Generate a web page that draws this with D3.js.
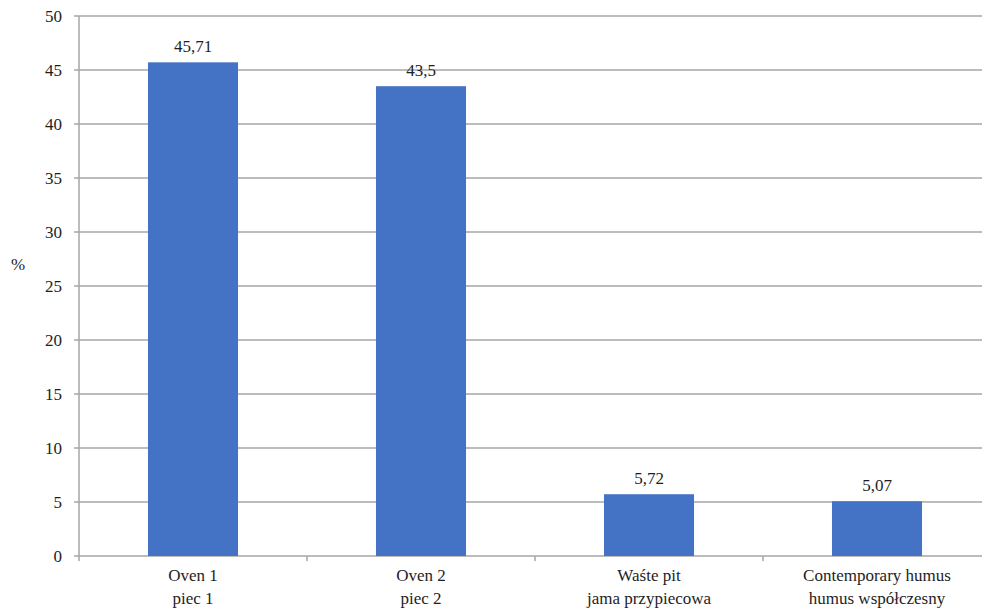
<!DOCTYPE html>
<html>
<head>
<meta charset="utf-8">
<script src="https://cdn.jsdelivr.net/npm/d3@7"></script>
<style>
  html, body { margin: 0; padding: 0; background: #fff; }
  svg { display: block; }
  svg text, svg tspan { font-family: "Liberation Serif", serif !important; font-size: 17px; fill: #1e1e1e; }
</style>
</head>
<body>
<svg id="chart" width="982" height="610"></svg>
<script>
// Share of each context, in percent
const categories = [
  ["Oven 1", "piec 1"],
  ["Oven 2", "piec 2"],
  ["Waśte pit", "jama przypiecowa"],
  ["Contemporary humus", "humus współczesny"]
];
const values = [45.71, 43.5, 5.72, 5.07];
const valueLabels = ["45,71", "43,5", "5,72", "5,07"];
const yTicks = [0, 5, 10, 15, 20, 25, 30, 35, 40, 45, 50];

(function () {
  const svg = d3.select("#chart");
  const plotLeft = 79, plotRight = 991, plotTop = 16, plotBottom = 556;

  const x = d3.scaleBand()
    .domain(d3.range(categories.length))
    .range([plotLeft, plotRight])
    .paddingInner(0.605)
    .paddingOuter(0.3025);

  const y = d3.scaleLinear().domain([0, 50]).range([plotBottom, plotTop]);

  const gridColor = "#a6a6a6";

  // horizontal gridlines with small ticks left of the axis
  svg.append("g")
    .selectAll("line")
    .data(yTicks)
    .join("line")
    .attr("x1", plotLeft - 5)
    .attr("x2", plotRight)
    .attr("y1", d => y(d))
    .attr("y2", d => y(d))
    .attr("stroke", gridColor)
    .attr("stroke-width", 1.5);

  // vertical axis line
  svg.append("line")
    .attr("x1", plotLeft).attr("x2", plotLeft)
    .attr("y1", plotTop).attr("y2", plotBottom + 5)
    .attr("stroke", gridColor).attr("stroke-width", 1.5);

  // category boundary ticks below the baseline
  const step = x.step();
  svg.append("g")
    .selectAll("line")
    .data(d3.range(1, categories.length))
    .join("line")
    .attr("x1", d => plotLeft + d * step)
    .attr("x2", d => plotLeft + d * step)
    .attr("y1", plotBottom)
    .attr("y2", plotBottom + 5)
    .attr("stroke", gridColor)
    .attr("stroke-width", 1.5);

  // y tick labels
  svg.append("g")
    .selectAll("text")
    .data(yTicks)
    .join("text")
    .attr("x", 62)
    .attr("y", d => y(d))
    .attr("dy", "0.35em")
    .attr("text-anchor", "end")
    .text(d => d);

  // axis title
  svg.append("text")
    .attr("x", 18)
    .attr("y", 270)
    .attr("text-anchor", "middle")
    .text("%");

  // bars
  svg.append("g")
    .selectAll("rect")
    .data(values)
    .join("rect")
    .attr("x", (d, i) => x(i))
    .attr("y", d => y(d))
    .attr("width", x.bandwidth())
    .attr("height", d => y(0) - y(d))
    .attr("fill", "#4472c4");

  // value labels
  svg.append("g")
    .selectAll("text")
    .data(values)
    .join("text")
    .attr("x", (d, i) => x(i) + x.bandwidth() / 2)
    .attr("y", d => y(d) - 10)
    .attr("text-anchor", "middle")
    .text((d, i) => valueLabels[i]);

  // category labels (two lines each)
  const cat = svg.append("g")
    .selectAll("text")
    .data(categories)
    .join("text")
    .attr("text-anchor", "middle");
  cat.append("tspan")
    .attr("x", (d, i) => x(i) + x.bandwidth() / 2)
    .attr("y", 581)
    .text(d => d[0]);
  cat.append("tspan")
    .attr("x", (d, i) => x(i) + x.bandwidth() / 2)
    .attr("y", 604)
    .text(d => d[1]);
})();
</script>
</body>
</html>
